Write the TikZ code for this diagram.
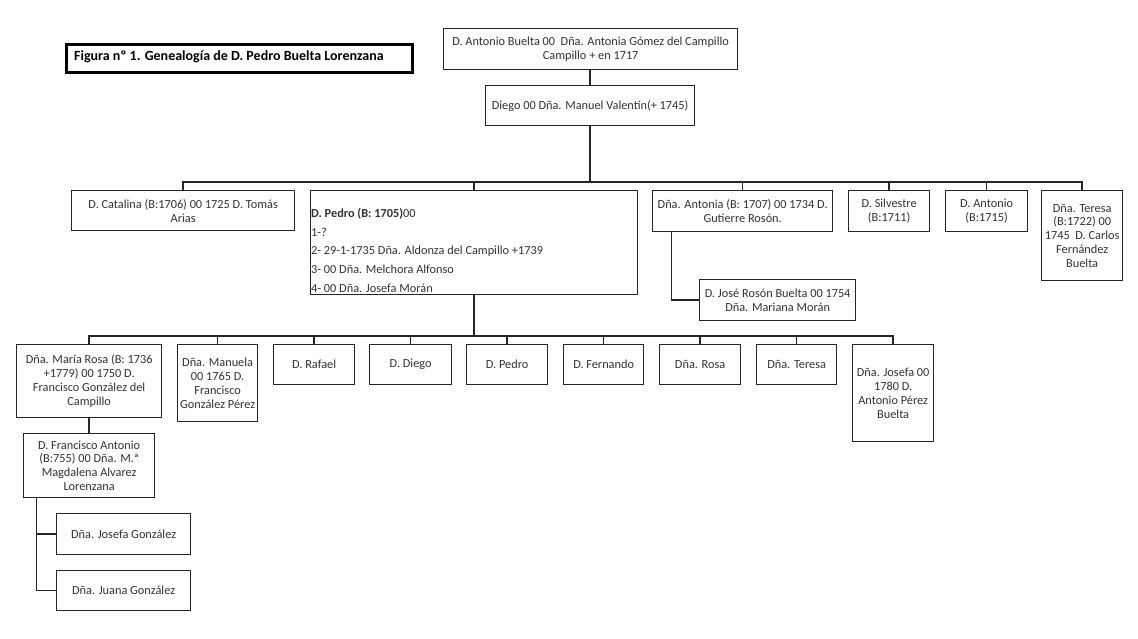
\documentclass[tikz,border=0pt]{standalone}
\usepackage{fontspec}
\setmainfont{Carlito}
\begin{document}
\begin{tikzpicture}[x=1pt,y=-1pt,
  box/.style={draw=black!85,line width=1.3pt,rectangle,inner sep=1pt,align=center,text=black!80,
    font=\fontsize{12.3}{13.8}\selectfont},
  conn/.style={draw=black!85,line width=1.5pt}]
\useasboundingbox[fill=white] (0,0) rectangle (1138,639);
% title
\node[draw=black,line width=3pt,minimum width=346pt,minimum height=28pt,inner sep=0pt,anchor=north west] (title) at (65,43) {};
\node[anchor=west,inner sep=0pt,font=\fontsize{14}{16}\selectfont\bfseries] (titletext) at (74,57) {Figura nº 1. Genealogía de D. Pedro Buelta Lorenzana};
% generation 1-2
\node[box,minimum width=294pt,minimum height=41pt,anchor=north west] (top) at (443,28) {D. Antonio Buelta 00\ \ Dña. Antonia Gómez del Campillo\\Campillo + en 1717};
\node[box,minimum width=209pt,minimum height=40pt,anchor=north west] (diego) at (485,85) {Diego 00 Dña. Manuel Valentín(+ 1745)};
% generation 3
\node[box,minimum width=223pt,minimum height=40pt,anchor=north west] (catalina) at (71,190) {D. Catalina (B:1706) 00 1725 D. Tomás\\Arias};
\node[box,minimum width=327pt,minimum height=104pt,anchor=north west] (pedroB) at (310,190) {};
\node[anchor=north west,inner sep=0pt,align=left,text=black!80,font=\fontsize{12.3}{18.7}\selectfont] (pedrotext) at (311,208) {\textbf{D. Pedro (B: 1705)}00\\1-?\\2- 29-1-1735 Dña. Aldonza del Campillo +1739\\3- 00 Dña. Melchora Alfonso\\4- 00 Dña. Josefa Morán};
\node[box,minimum width=180pt,minimum height=41pt,anchor=north west] (antonia) at (652,190) {Dña. Antonia (B: 1707) 00 1734 D.\\Gutierre Rosón.};
\node[box,minimum width=81pt,minimum height=41pt,anchor=north west] (silvestre) at (848,190) {D. Silvestre\\(B:1711)};
\node[box,minimum width=82pt,minimum height=41pt,anchor=north west] (antonio) at (945,190) {D. Antonio\\(B:1715)};
\node[box,minimum width=81pt,minimum height=90pt,anchor=north west] (teresa) at (1041,190) {Dña. Teresa\\(B:1722) 00\\1745\ \ D. Carlos\\Fernández\\Buelta};
\node[box,minimum width=156pt,minimum height=41pt,anchor=north west] (jose) at (699,279) {D. José Rosón Buelta 00 1754\\Dña. Mariana Morán};
% generation 4
\node[box,minimum width=145pt,minimum height=73pt,anchor=north west] (mrosa) at (16,344) {Dña. María Rosa (B: 1736\\+1779) 00 1750 D.\\Francisco González del\\Campillo};
\node[box,minimum width=80pt,minimum height=77pt,anchor=north west] (manuela) at (177,344) {Dña. Manuela\\00 1765 D.\\Francisco\\González Pérez};
\node[box,minimum width=81pt,minimum height=40pt,anchor=north west] (rafael) at (273,344) {D. Rafael};
\node[box,minimum width=82pt,minimum height=40pt,anchor=north west] (diego2) at (369,344) {D. Diego};
\node[box,minimum width=81pt,minimum height=40pt,anchor=north west] (pedro2) at (466,344) {D. Pedro};
\node[box,minimum width=80pt,minimum height=40pt,anchor=north west] (fernando) at (563,344) {D. Fernando};
\node[box,minimum width=81pt,minimum height=40pt,anchor=north west] (rosa) at (659,344) {Dña. Rosa};
\node[box,minimum width=80pt,minimum height=40pt,anchor=north west] (teresa2) at (756,344) {Dña. Teresa};
\node[box,minimum width=81pt,minimum height=97pt,anchor=north west] (josefa) at (852,344) {Dña. Josefa 00\\1780 D.\\Antonio Pérez\\Buelta};
% generation 5-6
\node[box,minimum width=131pt,minimum height=64pt,anchor=north west] (francisco) at (23,433) {D. Francisco Antonio\\(B:755) 00 Dña. M.ª\\Magdalena Alvarez\\Lorenzana};
\node[box,minimum width=134pt,minimum height=41pt,anchor=north west] (josefaG) at (56,513) {Dña. Josefa González};
\node[box,minimum width=134pt,minimum height=40pt,anchor=north west] (juanaG) at (56,570) {Dña. Juana González};
% connectors
\coordinate (bar1) at (0,182);
\coordinate (bar2) at (0,336);
\draw[conn] (diego.north |- top.south) -- (diego.north);
\draw[conn] (diego.south) -- (diego.south |- bar1);
\draw[conn] (catalina.north) |- (teresa.north |- bar1) -- (teresa.north);
\foreach \n in {pedroB,antonia,silvestre,antonio} \draw[conn] (\n.north) -- (\n.north |- bar1);
\draw[conn] ([xshift=-71pt]antonia.south) |- (jose.west);
\draw[conn] (pedroB.south) -- (pedroB.south |- bar2);
\draw[conn] (mrosa.north) |- (josefa.north |- bar2) -- (josefa.north);
\foreach \n in {manuela,rafael,diego2,pedro2,fernando,rosa,teresa2} \draw[conn] (\n.north) -- (\n.north |- bar2);
\draw[conn] (mrosa.south) -- (francisco.north);
\draw[conn] ([xshift=-52.5pt]francisco.south) |- (juanaG.west);
\draw[conn] ([xshift=-52.5pt]francisco.south |- josefaG.west) -- (josefaG.west);
\end{tikzpicture}
\end{document}
